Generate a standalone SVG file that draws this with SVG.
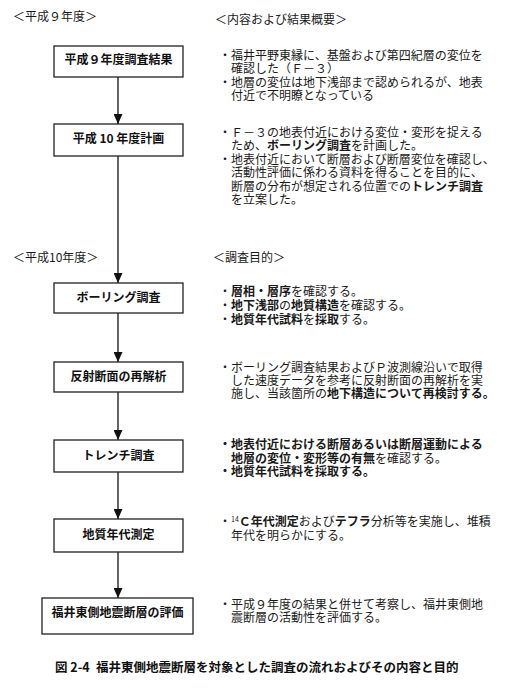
<svg xmlns="http://www.w3.org/2000/svg" width="508" height="693" viewBox="0 0 508 693">
<defs>
<marker id="ah" markerWidth="10" markerHeight="9" refX="10" refY="4.5" orient="auto" markerUnits="userSpaceOnUse">
<path d="M0,0 L10,4.5 L0,9 z" fill="#111"/>
</marker>
<style>
.t { font-family: "Noto Sans CJK JP", sans-serif; font-size: 12px; fill: #1a1a1a; }
.b { font-weight: 700; }
.lbl { font-family: "Noto Sans CJK JP", sans-serif; font-size: 12px; font-weight: 700; fill: #111; text-anchor: middle; }
.box { fill: #fff; stroke: #222; stroke-width: 1.3; }
.edge { stroke: #111; stroke-width: 1.3; fill: none; marker-end: url(#ah); }
.cap { font-family: "Noto Sans CJK JP", sans-serif; font-size: 12.5px; font-weight: 700; fill: #111; }
</style>
</defs>
<rect width="508" height="693" fill="#fff"/>

<g id="headers">
<text class="t" x="13" y="21" font-size="13">＜平成９年度＞</text>
<text class="t" x="215" y="24">＜内容および結果概要＞</text>
<text class="t" x="13" y="262">＜平成10年度＞</text>
<text class="t" x="213" y="262">＜調査目的＞</text>
</g>

<g id="edges">
<line class="edge" x1="118" y1="77" x2="118" y2="124"/>
<line class="edge" x1="118" y1="156" x2="118" y2="283"/>
<line class="edge" x1="118" y1="313" x2="118" y2="362"/>
<line class="edge" x1="118" y1="392" x2="118" y2="440"/>
<line class="edge" x1="118" y1="472" x2="118" y2="519"/>
<line class="edge" x1="118" y1="552" x2="118" y2="598"/>
</g>

<g id="n1">
<rect class="box" x="54" y="46" width="129" height="31"/>
<text class="lbl" x="118.5" y="64">平成９年度調査結果</text>
</g>
<g id="n2">
<rect class="box" x="54" y="124" width="129" height="32"/>
<text class="lbl" x="118.5" y="143">平成 10 年度計画</text>
</g>
<g id="n3">
<rect class="box" x="54" y="283" width="129" height="30"/>
<text class="lbl" x="118.5" y="302">ボーリング調査</text>
</g>
<g id="n4">
<rect class="box" x="54" y="362" width="129" height="30"/>
<text class="lbl" x="118.5" y="381">反射断面の再解析</text>
</g>
<g id="n5">
<rect class="box" x="54" y="440" width="129" height="32"/>
<text class="lbl" x="118.5" y="460">トレンチ調査</text>
</g>
<g id="n6">
<rect class="box" x="54" y="519" width="129" height="33"/>
<text class="lbl" x="118.5" y="539">地質年代測定</text>
</g>
<g id="n7">
<rect class="box" x="42" y="598" width="151" height="36"/>
<text class="lbl" x="117.5" y="617">福井東側地震断層の評価</text>
</g>

<g id="desc1">
<text class="t" x="219" y="59.5">・福井平野東縁に、基盤および第四紀層の変位を</text>
<text class="t" x="231" y="73">確認した（Ｆ－３）</text>
<text class="t" x="219" y="86.5">・地層の変位は地下浅部まで認められるが、地表</text>
<text class="t" x="231" y="100">付近で不明瞭となっている</text>
</g>
<g id="desc2">
<text class="t" x="219" y="136.5">・Ｆ－３の地表付近における変位・変形を捉える</text>
<text class="t" x="231" y="150">ため、<tspan class="b">ボーリング調査</tspan>を計画した。</text>
<text class="t" x="219" y="163.5">・地表付近において断層および断層変位を確認し、</text>
<text class="t" x="231" y="177">活動性評価に係わる資料を得ることを目的に、</text>
<text class="t" x="231" y="190.5">断層の分布が想定される位置での<tspan class="b">トレンチ調査</tspan></text>
<text class="t" x="231" y="204">を立案した。</text>
</g>
<g id="desc3">
<text class="t" x="219" y="296">・<tspan class="b">層相・層序</tspan>を確認する。</text>
<text class="t" x="219" y="310">・<tspan class="b">地下浅部</tspan>の<tspan class="b">地質構造</tspan>を確認する。</text>
<text class="t" x="219" y="324">・<tspan class="b">地質年代試料</tspan>を<tspan class="b">採取</tspan>する。</text>
</g>
<g id="desc4">
<text class="t" x="219" y="372">・ボーリング調査結果およびＰ波測線沿いで取得</text>
<text class="t" x="231" y="385">した速度データを参考に反射断面の再解析を実</text>
<text class="t" x="231" y="398">施し、当該箇所の<tspan class="b">地下構造について再検討する。</tspan></text>
</g>
<g id="desc5">
<text class="t b" x="219" y="449">・地表付近における断層あるいは断層運動による</text>
<text class="t" x="231" y="462.5"><tspan class="b">地層の変位・変形等の有無</tspan>を確認する。</text>
<text class="t b" x="219" y="476">・地質年代試料を採取する。</text>
</g>
<g id="desc6">
<text class="t" x="219" y="526">・<tspan font-size="7" dy="-4">14</tspan><tspan class="b" dy="4">Ｃ年代測定</tspan>および<tspan class="b">テフラ</tspan>分析等を実施し、堆積</text>
<text class="t" x="231" y="540">年代を明らかにする。</text>
</g>
<g id="desc7">
<text class="t" x="219" y="609">・平成９年度の結果と併せて考察し、福井東側地</text>
<text class="t" x="231" y="622">震断層の活動性を評価する。</text>
</g>

<g id="caption">
<text class="cap" x="55" y="672">図 2-4</text>
<text class="cap" x="96" y="672">福井東側地震断層を対象とした調査の流れおよびその内容と目的</text>
</g>
</svg>
